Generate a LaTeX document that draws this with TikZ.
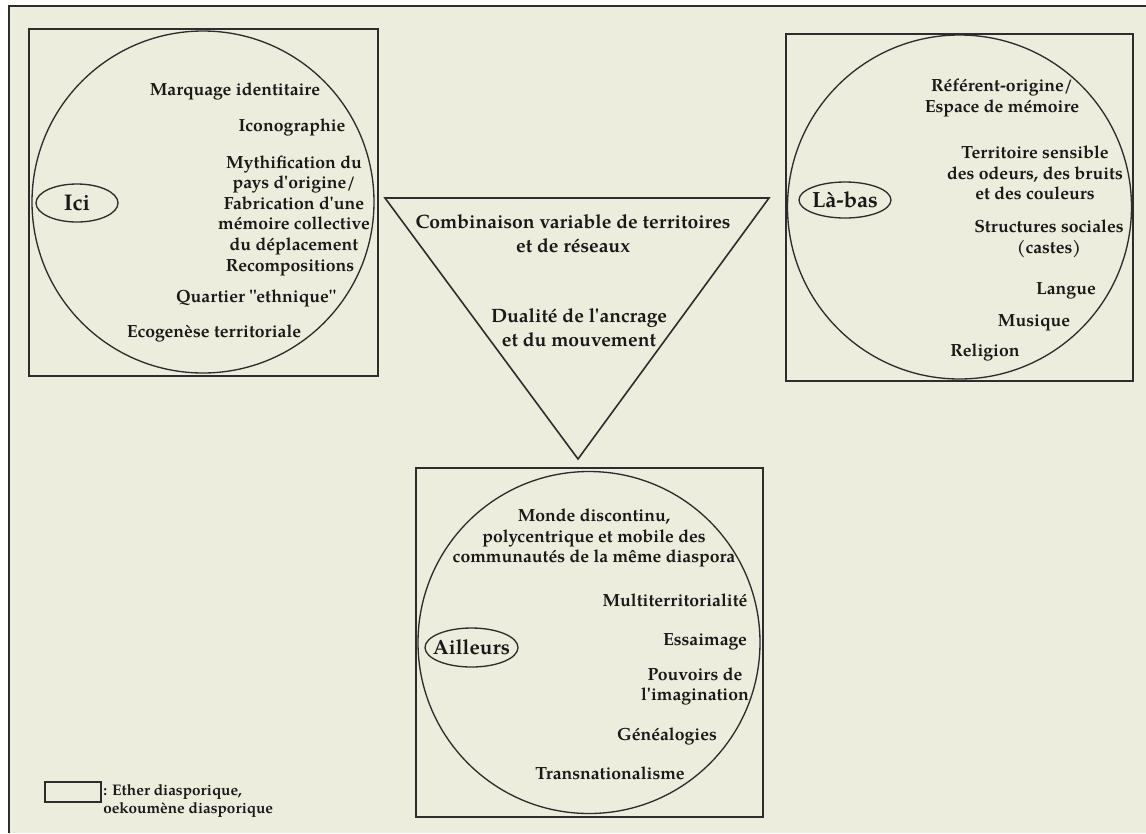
\documentclass[tikz,border=0pt]{standalone}
\usepackage{fontspec}
\setmainfont{TeX Gyre Pagella}[Ligatures=TeXOff]
\usetikzlibrary{shapes.geometric}
\definecolor{bgbeige}{RGB}{237,237,221}
\definecolor{inkc}{RGB}{45,45,45}
\definecolor{txtc}{RGB}{25,25,25}
\tikzset{
  lbl/.style={font=\bfseries\fontsize{13.2}{15.4}\selectfont, text=txtc, align=center, inner sep=0pt},
  big/.style={font=\bfseries\fontsize{14.5}{18}\selectfont, text=txtc, align=center, inner sep=0pt},
  zone/.style={draw=inkc, line width=1.4pt, rectangle, minimum width=261.75pt, minimum height=260.25pt, inner sep=0pt},
  orb/.style={draw=inkc, line width=1pt, circle, minimum size=256.5pt, inner sep=0pt},
  tag/.style={draw=inkc, line width=1pt, ellipse, inner sep=0pt},
  tagtext/.style={font=\bfseries\fontsize{#1}{18}\selectfont, text=txtc, inner sep=0pt},
}
\begin{document}
\begin{tikzpicture}[x=0.75pt,y=-0.75pt]
\useasboundingbox (0,0) rectangle (1146,833);
\fill[white] (0,0) rectangle (1146,833);
\fill[bgbeige] (9,6) rectangle (1146,833);
\draw[inkc, line width=1.3pt] (9,833) -- (9,6) -- (1146,6);

% Ici
\node[zone] (bL) at (203.5,202.5) {};
\node[orb] (cL) at (203,202) {};
\node[tag, minimum width=61.5pt, minimum height=28.5pt] (ici) at (77,203) {};
\node[tagtext=17] (icit) at (ici) {Ici};
\node[lbl] (l1) at (235,91) {Marquage identitaire};
\node[lbl] (l2) at (292,127) {Iconographie};
\node[lbl] (l3) at (294,205) {Mythification du\\pays d'origine/\\Fabrication d'une\\mémoire collective\\du déplacement};
\node[lbl] (l4) at (290,268) {Recompositions};
\node[lbl] (l5) at (256,298) {Quartier "ethnique"};
\node[lbl] (l6) at (214,333) {Ecogenèse territoriale};

% La-bas
\node[zone, minimum width=260.25pt, minimum height=260.25pt] (bR) at (959.5,207.5) {};
\node[orb, minimum size=258pt] (cR) at (959.5,207) {};
\node[tag, minimum width=69pt, minimum height=27pt] (labas) at (845,200) {};
\node[tagtext=16.5] (labast) at (labas) {Là-bas};
\node[lbl] (r1) at (1002,98) {Référent-origine/\\Espace de mémoire};
\node[lbl] (r2) at (1035,173) {Territoire sensible\\des odeurs, des bruits\\et des couleurs};
\node[lbl] (r3) at (1049,239) {Structures sociales\\(castes)};
\node[lbl] (r4) at (1066,291) {Langue};
\node[lbl] (r5) at (1034,323) {Musique};
\node[lbl] (r6) at (985,352) {Religion};

% triangle
\coordinate (tA) at (385,198);
\coordinate (tB) at (769,198);
\coordinate (tC) at (578,459);
\draw[inkc, line width=1.2pt, line join=miter] (tA) -- (tB) -- (tC) -- cycle;
\node[big] (t1) at (573,234) {Combinaison variable de territoires\\et de réseaux};
\node[big] (t2) at (579,327.5) {Dualité de l'ancrage\\et du mouvement};

% Ailleurs
\node[zone, minimum width=260.25pt, minimum height=261.75pt] (bB) at (589.5,642.5) {};
\node[orb] (cB) at (589,642.5) {};
\node[tag, minimum width=69.75pt, minimum height=29.25pt] (ailleurs) at (471.5,647.5) {};
\node[tagtext=15.5] (ailleurst) at (ailleurs) {Ailleurs};
\node[lbl] (b1) at (594,538) {Monde discontinu,\\polycentrique et mobile des\\communautés de la même diaspora};
\node[lbl] (b2) at (675,600) {Multiterritorialité};
\node[lbl] (b3) at (705,642) {Essaimage};
\node[lbl] (b4) at (695,686.5) {Pouvoirs de\\l'imagination};
\node[lbl] (b5) at (667,736) {Généalogies};
\node[lbl] (b6) at (610,773) {Transnationalisme};

% legend
\node[draw=inkc, line width=1.2pt, rectangle, minimum width=42pt, minimum height=15pt, inner sep=0pt] (leg) at (73,792) {};
\node[lbl, align=left, anchor=west, font=\bfseries\fontsize{11.5}{13.5}\selectfont] (legt) at (103,801) {: Ether diasporique,\\oekoumène diasporique};
\end{tikzpicture}
\end{document}
